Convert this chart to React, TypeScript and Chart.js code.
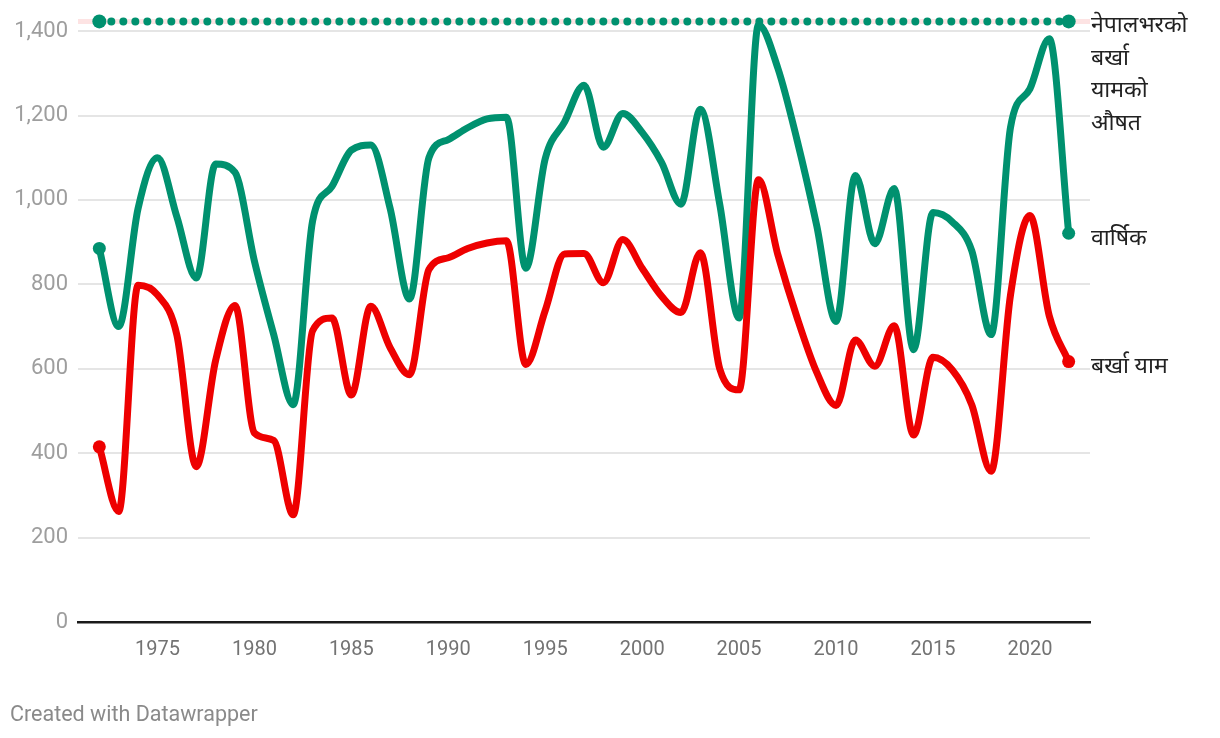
import React, { useEffect, useRef } from "react";
import { Chart, registerables } from "chart.js";

Chart.register(...registerables);

const YEARS = [
  1972, 1973, 1974, 1975, 1976, 1977, 1978, 1979, 1980, 1981,
  1982, 1983, 1984, 1985, 1986, 1987, 1988, 1989, 1990, 1991,
  1992, 1993, 1994, 1995, 1996, 1997, 1998, 1999, 2000, 2001,
  2002, 2003, 2004, 2005, 2006, 2007, 2008, 2009, 2010, 2011,
  2012, 2013, 2014, 2015, 2016, 2017, 2018, 2019, 2020, 2021,
  2022,
];

const ANNUAL = [
  885, 700, 980, 1100, 960, 815, 1085, 1065, 855, 680,
  515, 950, 1032, 1118, 1130, 980, 765, 1100, 1143, 1171,
  1192, 1196, 838, 1098, 1185, 1272, 1125, 1205, 1160, 1089,
  990, 1215, 990, 720, 1415, 1312, 1140, 940, 712, 1058,
  896, 1027, 645, 970, 948, 880, 681, 1172, 1263, 1382,
  921,
];

const MONSOON = [
  415, 262, 798, 775, 680, 368, 620, 750, 448, 430,
  254, 690, 720, 538, 748, 650, 586, 835, 863, 885,
  898, 903, 610, 738, 872, 873, 804, 906, 838, 772,
  733, 875, 600, 550, 1048, 870, 720, 592, 513, 668,
  606, 702, 443, 627, 597, 515, 357, 775, 963, 725,
  617,
];

const NATIONAL_AVG = 1423;
const AVG_YEARS = [1972, 2022];
const BAND_YEARS = [1970.9, 2023.1];

const Y_TICKS = [0, 200, 400, 600, 800, 1000, 1200, 1400];
const X_TICKS = [1975, 1980, 1985, 1990, 1995, 2000, 2005, 2010, 2015, 2020];

const LABEL_AVG = ["नेपालभरको", "बर्खा", "यामको", "औषत"];
const LABEL_ANNUAL = "वार्षिक";
const LABEL_MONSOON = "बर्खा याम";
const CREDIT = "Created with Datawrapper";

const GREEN = "#00916f";
const RED = "#ee0000";
const FONT = 'Roboto, "Noto Sans", sans-serif';

const labelPlugin = {
  id: "endLabels",
  afterDatasetsDraw(chart: any) {
    const { ctx, scales } = chart;
    const x = scales.x;
    const y = scales.y;
    ctx.save();
    ctx.font = `23px ${FONT}`;
    ctx.fillStyle = "#222222";
    ctx.textBaseline = "middle";
    ctx.textAlign = "left";
    const lx = x.right + 1;
    const avgY = y.getPixelForValue(NATIONAL_AVG) + 5;
    LABEL_AVG.forEach((t, i) => ctx.fillText(t, lx, avgY + i * 32.5));
    ctx.fillText(LABEL_ANNUAL, lx, y.getPixelForValue(ANNUAL[ANNUAL.length - 1]) + 6);
    ctx.fillText(LABEL_MONSOON, lx, y.getPixelForValue(MONSOON[MONSOON.length - 1]) + 6);
    ctx.font = `21.5px ${FONT}`;
    ctx.fillStyle = "#8a8a8a";
    ctx.fillText(CREDIT, 10, 716);
    ctx.restore();
  },
};

export default function App() {
  const ref = useRef<HTMLCanvasElement | null>(null);

  useEffect(() => {
    document.body.style.margin = "0";
    const canvas = ref.current;
    if (!canvas) return;
    const endDot = (n: number, r: number) => (c: any) =>
      c.dataIndex === 0 || c.dataIndex === n - 1 ? r : 0;

    const chart = new Chart(canvas, {
      type: "line",
      data: {
        datasets: [
          {
            label: "monsoon",
            data: YEARS.map((yr, i) => ({ x: yr, y: MONSOON[i] })),
            borderColor: RED,
            backgroundColor: RED,
            borderWidth: 7,
            cubicInterpolationMode: "monotone",
            pointRadius: endDot(YEARS.length, 6.5),
            pointBorderWidth: 0,
            pointHoverRadius: 0,
            order: 1,
            clip: false,
          },
          {
            label: "annual",
            data: YEARS.map((yr, i) => ({ x: yr, y: ANNUAL[i] })),
            borderColor: GREEN,
            backgroundColor: GREEN,
            borderWidth: 7,
            cubicInterpolationMode: "monotone",
            pointRadius: endDot(YEARS.length, 6.5),
            pointBorderWidth: 0,
            pointHoverRadius: 0,
            order: 2,
            clip: false,
          },
          {
            label: "avg",
            data: AVG_YEARS.map((yr) => ({ x: yr, y: NATIONAL_AVG })),
            borderColor: GREEN,
            backgroundColor: GREEN,
            borderWidth: 8,
            borderDash: [0, 12],
            borderCapStyle: "round",
            pointRadius: 7,
            pointBorderWidth: 0,
            pointHoverRadius: 0,
            order: 3,
            clip: false,
          },
          {
            label: "band",
            data: BAND_YEARS.map((yr) => ({ x: yr, y: NATIONAL_AVG })),
            borderColor: "#fde3e3",
            borderWidth: 5,
            pointRadius: 0,
            pointHoverRadius: 0,
            order: 4,
            clip: false,
          },
        ],
      },
      options: {
        animation: false,
        responsive: true,
        maintainAspectRatio: false,
        layout: { padding: { top: 10, right: 130, bottom: 0, left: 0 } },
        plugins: {
          legend: { display: false },
          tooltip: { enabled: false },
        },
        scales: {
          x: {
            type: "linear",
            min: BAND_YEARS[0],
            max: BAND_YEARS[1],
            afterBuildTicks: (s: any) => {
              s.ticks = X_TICKS.map((v) => ({ value: v }));
            },
            afterFit: (s: any) => {
              s.height = 116;
              s.paddingLeft = 0;
              s.paddingRight = 0;
            },
            grid: { display: false, drawTicks: false },
            border: { display: true, color: "#1a1a1a", width: 2.5 },
            ticks: {
              padding: 16,
              color: "#737373",
              font: { family: FONT, size: 20 },
              callback: (v: any) => String(v),
              maxRotation: 0,
              autoSkip: false,
            },
          },
          y: {
            type: "linear",
            min: 0,
            max: 1450,
            afterBuildTicks: (s: any) => {
              s.ticks = Y_TICKS.map((v) => ({ value: v }));
            },
            afterFit: (s: any) => {
              s.width = 78;
              s.paddingTop = 0;
              s.paddingBottom = 0;
            },
            grid: { color: "#e5e5e5", lineWidth: 2, drawTicks: false },
            border: { display: false },
            ticks: {
              padding: 10,
              color: "#9e9e9e",
              font: { family: FONT, size: 22 },
              callback: (v: any) => Number(v).toLocaleString("en-US"),
            },
          },
        },
      },
      plugins: [labelPlugin],
    });
    return () => chart.destroy();
  }, []);

  return (
    <div style={{ position: "relative", width: 1220, height: 738 }}>
      <canvas ref={ref} />
    </div>
  );
}
